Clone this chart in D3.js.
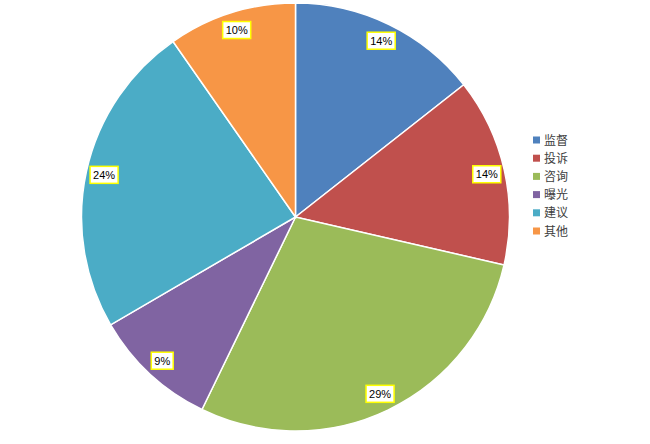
<!doctype html>
<html lang="zh">
<head>
<meta charset="utf-8">
<style>
html, body { margin: 0; padding: 0; background: #fff; overflow: hidden; }
svg { display: block; }
.lbl text { font-family: "Liberation Sans", Arial, sans-serif; font-size: 11px; fill: #000; }
.legend text { font-family: "Noto Sans CJK SC", sans-serif; font-size: 12px; fill: #404040; }
</style>
</head>
<body>
<svg id="chart" width="650" height="444"></svg>
<script src="https://cdn.jsdelivr.net/npm/d3@7/dist/d3.min.js"></script>
<script>
const categories = ['监督', '投诉', '咨询', '曝光', '建议', '其他'];
const values = [14.4, 14.2, 28.6, 9.4, 23.7, 9.7];
const colors = ['#4F81BD', '#C0504D', '#9BBB59', '#8064A2', '#4BACC6', '#F79646'];

const svg = d3.select('#chart');
const cx = 295.5, cy = 217, R = 214;
const total = d3.sum(values);

const pie = d3.pie().sort(null).value(d => d)(values);
const arc = d3.arc().innerRadius(0).outerRadius(R);
const labelArc = d3.arc().innerRadius(196).outerRadius(196);

const g = svg.append('g').attr('transform', `translate(${cx},${cy})`);
g.selectAll('path').data(pie).enter().append('path')
    .attr('d', arc)
    .attr('fill', (d, i) => colors[i])
    .attr('stroke', '#fff')
    .attr('stroke-width', 1.5);

const lbl = g.selectAll('g.lbl').data(pie).enter().append('g')
    .attr('class', 'lbl')
    .attr('transform', d => `translate(${labelArc.centroid(d)})`);
lbl.each(function(d) {
    const s = d3.select(this);
    const t = s.append('text')
        .attr('text-anchor', 'middle')
        .attr('dy', '0.35em')
        .text(Math.round(d.value / total * 100 + 1e-9) + '%');
    const w = t.node().getComputedTextLength() + 6;
    s.insert('rect', 'text')
        .attr('x', -w / 2).attr('y', -8.5)
        .attr('width', w).attr('height', 17)
        .attr('fill', '#fff')
        .attr('stroke', '#FFFF00')
        .attr('stroke-width', 1.5);
});

const legend = svg.append('g').attr('class', 'legend').attr('transform', 'translate(533,140)');
const item = legend.selectAll('g').data(categories).enter().append('g')
    .attr('transform', (d, i) => `translate(0,${i * 18.2})`);
item.append('rect')
    .attr('x', 0).attr('y', -3.5)
    .attr('width', 7).attr('height', 7)
    .attr('fill', (d, i) => colors[i]);
item.append('text')
    .attr('x', 11).attr('dy', '0.38em')
    .text(d => d);
</script>
</body>
</html>
